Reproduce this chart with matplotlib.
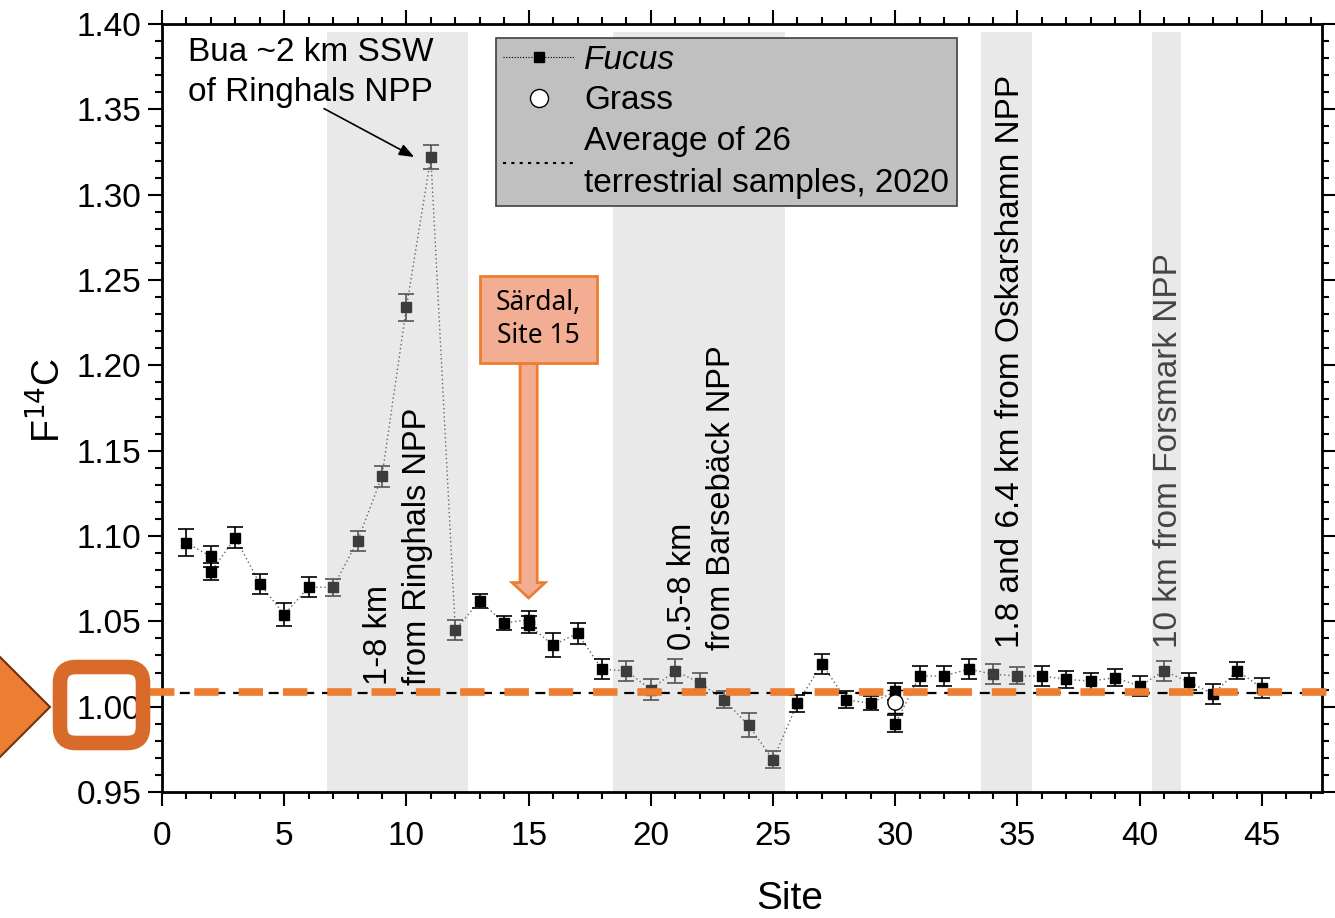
import numpy as np
import matplotlib.pyplot as plt
from matplotlib.lines import Line2D
from matplotlib.patches import Polygon, FancyBboxPatch, FancyArrow, Rectangle
from matplotlib.transforms import Affine2D

plt.rcParams['font.family'] = ['Liberation Sans', 'DejaVu Sans']

# Fucus samples (site, F14C, 1 sigma)
fucus_site = [1, 2, 2, 3, 4, 5, 6, 7, 8, 9, 10, 11, 12, 13, 14, 15, 15, 16, 17, 18,
              19, 20, 21, 22, 23, 24, 25, 26, 27, 28, 29, 30, 30, 31, 32, 33, 34, 35,
              36, 37, 38, 39, 40, 41, 42, 43, 44, 45]
fucus_f14c = [1.096, 1.088, 1.079, 1.099, 1.072, 1.054, 1.070, 1.070, 1.097, 1.135,
              1.234, 1.322, 1.045, 1.062, 1.049, 1.051, 1.048, 1.036, 1.043, 1.022,
              1.021, 1.010, 1.021, 1.014, 1.004, 0.989, 0.969, 1.002, 1.025, 1.004,
              1.002, 1.009, 0.990, 1.018, 1.018, 1.022, 1.019, 1.018, 1.018, 1.016,
              1.015, 1.017, 1.012, 1.021, 1.0145, 1.0075, 1.021, 1.011]
fucus_err = [0.008, 0.006, 0.005, 0.006, 0.006, 0.007, 0.006, 0.005, 0.006, 0.006,
             0.008, 0.007, 0.006, 0.004, 0.004, 0.005, 0.005, 0.007, 0.006, 0.006,
             0.006, 0.006, 0.007, 0.006, 0.005, 0.007, 0.005, 0.005, 0.006, 0.005,
             0.004, 0.005, 0.005, 0.006, 0.006, 0.006, 0.006, 0.005, 0.006, 0.005,
             0.005, 0.005, 0.006, 0.006, 0.005, 0.006, 0.005, 0.006]

grass_site = [30]
grass_f14c = [1.003]
grass_err = [0.007]

terrestrial_avg = 1.008

# shaded NPP neighbourhoods (site ranges)
npp_spans = [(6.75, 12.5), (18.45, 25.5), (33.5, 35.6), (40.5, 41.7)]

W, H = 1335, 918
fig = plt.figure(figsize=(W / 100, H / 100), dpi=100)
ax = fig.add_axes([162 / W, 1 - 792 / H, 1160 / W, 768 / H])
ax.set_xlim(0, 47.46)
ax.set_ylim(0.95, 1.40)

for a, b in npp_spans:
    ax.add_patch(Rectangle((a, 0.95), b - a, 1.3955 - 0.95, facecolor='#e9e9e9',
                           edgecolor='none', zorder=0))

x = np.array(fucus_site, dtype=float)
y = np.array(fucus_f14c)
e = np.array(fucus_err)
shaded = np.zeros(len(x), dtype=bool)
for a, b in npp_spans:
    shaded |= (x > a) & (x < b)

ax.plot(x, y, linestyle=(0, (1, 2)), color='#666666', lw=1.0, zorder=2)
ax.errorbar(x[~shaded], y[~shaded], yerr=e[~shaded], fmt='s', ms=7, color='black',
            ecolor='black', elinewidth=1.2, capsize=6, capthick=1.2, zorder=3)
ax.errorbar(x[shaded], y[shaded], yerr=e[shaded], fmt='s', ms=7, color='#3c3c3c',
            ecolor='#555555', elinewidth=1.2, capsize=6, capthick=1.2, zorder=3)
ax.errorbar(grass_site, grass_f14c, yerr=grass_err, fmt='o', ms=11, mfc='white',
            mec='black', mew=1.0, ecolor='black', elinewidth=1.2, capsize=6,
            capthick=1.2, zorder=4)

ax.axhline(terrestrial_avg, color='black', lw=1.6, dashes=(4.5, 3.5), zorder=2.5)

# ticks
ax.set_xticks(np.arange(0, 46, 5))
ax.set_xticks(np.arange(0, 48, 1), minor=True)
ax.set_yticks(np.arange(0.95, 1.4001, 0.05))
ax.set_yticks(np.arange(0.95, 1.4001, 0.01), minor=True)
ax.yaxis.set_major_formatter(plt.FuncFormatter(lambda v, p: f'{v:.2f}'))
ax.tick_params(which='both', direction='out', top=True, right=True, width=1.5,
               labelsize=24)
ax.tick_params(which='major', length=10, pad=5)
ax.tick_params(which='minor', length=5)
ax.tick_params(axis='x', which='major', pad=11)
for s in ax.spines.values():
    s.set_linewidth(2)

ax.set_xlabel('Site', fontsize=28)
ax.xaxis.set_label_coords((790 - 162) / 1160, -0.116)
ax.set_ylabel('F$^{14}$C', fontsize=27)
ax.yaxis.set_label_coords(-0.081, 0.51)

# legend
handles = [Line2D([], [], linestyle=(0, (1, 1.5)), color='black', lw=0.8,
                  marker='s', ms=7),
           Line2D([], [], linestyle='none', marker='o', ms=13, mfc='white',
                  mec='black'),
           Line2D([], [], linestyle=(0, (1.5, 2.5)), color='black', lw=1.5)]
labels = ['Fucus', 'Grass', 'Average of 26\nterrestrial samples, 2020']
leg = ax.legend(handles, labels, loc='upper left', bbox_to_anchor=(0.288, 0.982),
                fontsize=24, frameon=True, fancybox=False, handlelength=2.15,
                handletextpad=0.28, labelspacing=0.28, borderpad=0.22,
                borderaxespad=0)
leg.get_frame().set_facecolor('#c0c0c0')
leg.get_frame().set_edgecolor('#404040')
leg.get_frame().set_linewidth(1.2)
leg.get_frame().set_alpha(1)
leg.get_texts()[0].set_style('italic')
leg.get_texts()[2].set_linespacing(1.45)

# annotations
ax.text(1.06, 1.3925, 'Bua ~2 km SSW\nof Ringhals NPP', fontsize=24, ha='left',
        va='top', linespacing=1.4)
ax.annotate('', xy=(10.42, 1.3213), xytext=(6.53, 1.3512),
            arrowprops=dict(arrowstyle='-|>,head_length=0.9,head_width=0.35',
                            color='black', lw=1.2))
ax.text(9.66, 1.0127, '1-8 km\nfrom Ringhals NPP', fontsize=23.5, rotation=90,
        ha='center', va='bottom', multialignment='left', linespacing=1.35)
ax.text(22.1, 1.0332, '0.5-8 km\nfrom Barsebäck NPP', fontsize=23.5, rotation=90,
        ha='center', va='bottom', multialignment='left', linespacing=1.35)
ax.text(34.7, 1.0344, '1.8 and 6.4 km from Oskarshamn NPP', fontsize=24,
        rotation=90, ha='center', va='bottom')
ax.text(41.16, 1.0344, '10 km from Forsmark NPP', fontsize=24, rotation=90,
        ha='center', va='bottom', color='#444444')

# Särdal callout
ax.add_patch(FancyArrow(15.0, 1.2014, 0, 1.0637 - 1.2014, width=0.7, head_width=1.35,
                        head_length=0.009, length_includes_head=True,
                        facecolor='#f3ad93', edgecolor='#ed7d31', lw=2, zorder=5))
ax.add_patch(Rectangle((13.01, 1.2014), 17.8 - 13.01, 1.2523 - 1.2014,
                       facecolor='#f3ad93', edgecolor='#ed7d31', lw=2, zorder=5))
ax.text(15.4, 1.2268, 'Särdal,\nSite 15', fontsize=19, ha='center', va='center',
        family=['Noto Sans', 'DejaVu Sans'], linespacing=1.2, zorder=6)

# highlight of the 1.00 level, in image pixels
pix = Affine2D().scale(1, -1).translate(0, H)
fig.add_artist(Line2D([150, 1335], [692, 692], color='#ed7d31', lw=5.5,
                      dashes=(3.2, 2.6), transform=pix, zorder=1.5))
fig.add_artist(Polygon([(-5, 652), (50, 707), (-5, 762)], closed=True,
                       facecolor='#ed7d31', edgecolor='#6b3410', lw=1.5,
                       transform=pix))
fig.add_artist(FancyBboxPatch((60, 667), 83, 76, boxstyle='round,pad=0,rounding_size=16',
                              facecolor='none', edgecolor='#d96b2a', lw=10.5,
                              transform=pix))

fig.savefig('out.png', dpi=100)
plt.close(fig)
